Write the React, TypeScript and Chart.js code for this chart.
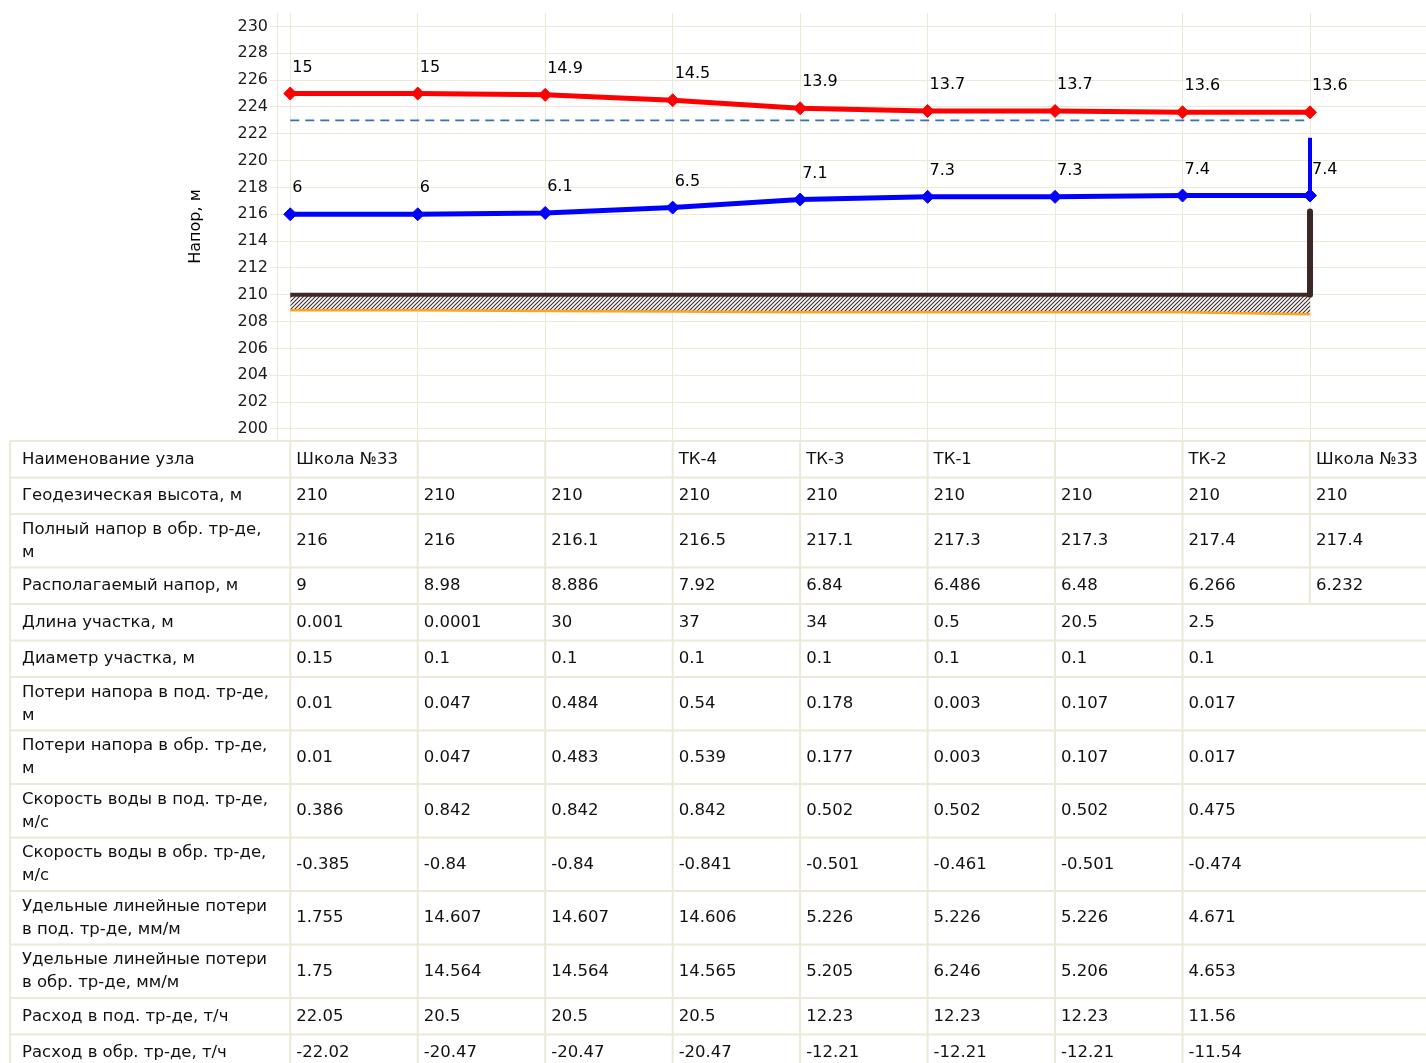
import React, { useEffect, useRef } from 'react';
import { Chart, registerables } from 'chart.js';

Chart.register(...registerables);

// ---------- data ----------
const nodeIndex = [0, 1, 2, 3, 4, 5, 6, 7, 8];
const nodeNames = ['Школа №33', '', '', 'ТК-4', 'ТК-3', 'ТК-1', '', 'ТК-2', 'Школа №33'];
const geoHeight = [210, 210, 210, 210, 210, 210, 210, 210, 210];
const supplyHead = [225, 225, 224.9, 224.5, 223.9, 223.7, 223.7, 223.6, 223.6];
const supplyLabels = ['15', '15', '14.9', '14.5', '13.9', '13.7', '13.7', '13.6', '13.6'];
const returnHead = [216, 216, 216.1, 216.5, 217.1, 217.3, 217.3, 217.4, 217.4];
const returnLabels = ['6', '6', '6.1', '6.5', '7.1', '7.3', '7.3', '7.4', '7.4'];
const staticHead = [223, 223, 223, 223, 223, 223, 223, 223, 223];
const pipeBottom = [208.85, 208.85, 208.8, 208.75, 208.7, 208.7, 208.7, 208.7, 208.55];
const riseX = [8, 8];
const returnRiseY = [217.4, 221.7];
const buildingY = [210, 216.2];

const availableHead = [9, 8.98, 8.886, 7.92, 6.84, 6.486, 6.48, 6.266, 6.232];
const sectionLength = [0.001, 0.0001, 30, 37, 34, 0.5, 20.5, 2.5];
const sectionDiameter = [0.15, 0.1, 0.1, 0.1, 0.1, 0.1, 0.1, 0.1];
const lossSupply = [0.01, 0.047, 0.484, 0.54, 0.178, 0.003, 0.107, 0.017];
const lossReturn = [0.01, 0.047, 0.483, 0.539, 0.177, 0.003, 0.107, 0.017];
const velSupply = [0.386, 0.842, 0.842, 0.842, 0.502, 0.502, 0.502, 0.475];
const velReturn = [-0.385, -0.84, -0.84, -0.841, -0.501, -0.461, -0.501, -0.474];
const specLossSupply = [1.755, 14.607, 14.607, 14.606, 5.226, 5.226, 5.226, 4.671];
const specLossReturn = [1.75, 14.564, 14.564, 14.565, 5.205, 6.246, 5.206, 4.653];
const flowSupply = [22.05, 20.5, 20.5, 20.5, 12.23, 12.23, 12.23, 11.56];
const flowReturn = [-22.02, -20.47, -20.47, -20.47, -12.21, -12.21, -12.21, -11.54];

const yTickValues = [200, 201, 202, 203, 204, 205, 206, 207, 208, 209, 210, 211, 212, 213, 214, 215, 216, 217, 218, 219, 220, 221, 222, 223, 224, 225, 226, 227, 228, 229, 230, 231];
const yLabelMax = 230;

const tableRows: { label: string[]; values: (string | number)[] }[] = [
  { label: ['Наименование узла'], values: nodeNames },
  { label: ['Геодезическая высота, м'], values: geoHeight },
  { label: ['Полный напор в обр. тр-де,', 'м'], values: returnHead },
  { label: ['Располагаемый напор, м'], values: availableHead },
  { label: ['Длина участка, м'], values: sectionLength },
  { label: ['Диаметр участка, м'], values: sectionDiameter },
  { label: ['Потери напора в под. тр-де,', 'м'], values: lossSupply },
  { label: ['Потери напора в обр. тр-де,', 'м'], values: lossReturn },
  { label: ['Скорость воды в под. тр-де,', 'м/с'], values: velSupply },
  { label: ['Скорость воды в обр. тр-де,', 'м/с'], values: velReturn },
  { label: ['Удельные линейные потери', 'в под. тр-де, мм/м'], values: specLossSupply },
  { label: ['Удельные линейные потери', 'в обр. тр-де, мм/м'], values: specLossReturn },
  { label: ['Расход в под. тр-де, т/ч'], values: flowSupply },
  { label: ['Расход в обр. тр-де, т/ч'], values: flowReturn },
];

const FONT = 'DejaVu Sans';
const GRID = '#ece9d8';

export default function App() {
  const ref = useRef<HTMLCanvasElement>(null);

  useEffect(() => {
    const canvas = ref.current!;
    const pc = document.createElement('canvas');
    const s = 4;
    pc.width = s;
    pc.height = s;
    const p = pc.getContext('2d')!;
    p.fillStyle = '#ffffff';
    p.fillRect(0, 0, s, s);
    p.strokeStyle = '#3f2c2c';
    p.lineWidth = 1.1;
    p.beginPath();
    p.moveTo(0, s);
    p.lineTo(s, 0);
    p.moveTo(-1, 1);
    p.lineTo(1, -1);
    p.moveTo(s - 1, s + 1);
    p.lineTo(s + 1, s - 1);
    p.stroke();
    const hatch = canvas.getContext('2d')!.createPattern(pc, 'repeat')!;

    const pts = (ys: number[]) => ys.map((y, i) => ({ x: nodeIndex[i], y }));

    const labelPlugin = {
      id: 'pointLabels',
      afterDatasetsDraw(chart: any) {
        const ctx = chart.ctx;
        ctx.save();
        ctx.font = `16px "${FONT}"`;
        ctx.fillStyle = '#000';
        ctx.textAlign = 'left';
        ctx.textBaseline = 'middle';
        const sets = [
          { idx: 0, labels: supplyLabels },
          { idx: 1, labels: returnLabels },
        ];
        sets.forEach(({ idx, labels }) => {
          const meta = chart.getDatasetMeta(idx);
          meta.data.forEach((pt: any, i: number) => {
            ctx.fillText(labels[i], pt.x + 2, pt.y - 26);
          });
        });
        ctx.restore();
      },
    };

    const tablePlugin = {
      id: 'dataTable',
      afterDraw(chart: any) {
        const ctx = chart.ctx;
        const xs = chart.scales.x;
        const colX = nodeIndex.map((i) => xs.getPixelForValue(i));
        const left = 10;
        const right = chart.width;
        let y = chart.chartArea.bottom + 1;
        ctx.save();
        ctx.font = `16.5px "${FONT}"`;
        ctx.fillStyle = '#111';
        ctx.textBaseline = 'middle';
        ctx.textAlign = 'left';
        ctx.strokeStyle = GRID;
        ctx.lineWidth = 2;
        tableRows.forEach((row) => {
          const h = row.label.length > 1 ? 53.5 : 36.5;
          ctx.beginPath();
          ctx.moveTo(left, y);
          ctx.lineTo(right, y);
          ctx.stroke();
          ctx.beginPath();
          ctx.moveTo(left, y);
          ctx.lineTo(left, y + h);
          row.values.forEach((_, j) => {
            ctx.moveTo(colX[j], y);
            ctx.lineTo(colX[j], y + h);
          });
          ctx.stroke();
          const yc = y + h / 2;
          if (row.label.length > 1) {
            ctx.fillText(row.label[0], 22, yc - 11.5);
            ctx.fillText(row.label[1], 22, yc + 11.5);
          } else {
            ctx.fillText(row.label[0], 22, yc);
          }
          row.values.forEach((v, j) => {
            ctx.fillText(String(v), colX[j] + 6, yc);
          });
          y += h;
        });
        ctx.beginPath();
        ctx.moveTo(left, y);
        ctx.lineTo(right, y);
        ctx.stroke();
        ctx.restore();
      },
    };

    const chart = new Chart(canvas, {
      type: 'line',
      data: {
        datasets: [
          {
            label: 'Напор в под. тр-де',
            data: pts(supplyHead),
            borderColor: '#ff0000',
            backgroundColor: '#ff0000',
            borderWidth: 5,
            pointStyle: 'rectRot',
            pointRadius: 6.5,
            pointBorderWidth: 1,
            pointBackgroundColor: '#ff0000',
            pointBorderColor: '#ff0000',
          },
          {
            label: 'Напор в обр. тр-де',
            data: pts(returnHead),
            borderColor: '#0000ff',
            backgroundColor: '#0000ff',
            borderWidth: 5,
            pointStyle: 'rectRot',
            pointRadius: 6.5,
            pointBorderWidth: 1,
            pointBackgroundColor: '#0000ff',
            pointBorderColor: '#0000ff',
          },
          {
            label: 'Подъём обр.',
            data: riseX.map((x, i) => ({ x, y: returnRiseY[i] })),
            borderColor: '#0000ff',
            borderWidth: 4,
            pointRadius: 0,
          },
          {
            label: 'Статический напор',
            data: pts(staticHead),
            borderColor: '#3272bd',
            borderWidth: 1.8,
            borderDash: [9, 6],
            pointRadius: 0,
          },
          {
            label: 'Здание',
            data: riseX.map((x, i) => ({ x, y: buildingY[i] })),
            borderColor: '#3d2626',
            borderWidth: 6,
            borderCapStyle: 'round',
            pointRadius: 0,
          },
          {
            label: 'Геодезическая высота',
            data: pts(geoHeight),
            borderColor: '#3d2727',
            borderWidth: 4,
            pointRadius: 0,
          },
          {
            label: 'Низ трубы',
            data: pts(pipeBottom),
            borderColor: '#ffa31a',
            borderWidth: 2.5,
            pointRadius: 0,
            fill: '-1',
            backgroundColor: hatch,
          },
        ],
      },
      options: {
        animation: false,
        responsive: false,
        devicePixelRatio: 1,
        layout: { autoPadding: false, padding: { left: 182, top: 13, right: 0, bottom: 623 } },
        plugins: { legend: { display: false }, tooltip: { enabled: false } },
        font: { family: FONT },
        scales: {
          x: {
            type: 'linear',
            min: -0.104,
            max: 8.91,
            afterBuildTicks: (axis: any) => {
              axis.ticks = nodeIndex.map((v) => ({ value: v }));
            },
            afterFit: (axis: any) => {
              axis.height = 0;
            },
            ticks: { display: false },
            grid: { color: GRID, drawTicks: false, lineWidth: 1 },
            border: { display: false },
          },
          y: {
            type: 'linear',
            min: 199.18,
            max: 231,
            afterBuildTicks: (axis: any) => {
              axis.ticks = yTickValues.map((v) => ({ value: v }));
            },
            afterFit: (axis: any) => {
              axis.width = 95;
            },
            ticks: {
              padding: 2,
              color: '#1a1a1a',
              font: { family: FONT, size: 16 },
              callback: (v: any) => (v % 2 === 0 && v <= yLabelMax ? String(v) : ''),
            },
            grid: { color: GRID, tickLength: 7, lineWidth: 1 },
            border: { display: true, color: GRID, width: 1 },
            title: {
              display: true,
              text: 'Напор, м',
              color: '#000',
              font: { family: FONT, size: 16 },
              padding: { top: 4, bottom: 4 },
            },
          },
        },
      },
      plugins: [labelPlugin, tablePlugin],
    } as any);

    return () => chart.destroy();
  }, []);

  return (
    <div style={{ position: 'absolute', left: 0, top: 0, width: 1426, height: 1063, background: '#fff' }}>
      <canvas ref={ref} width={1426} height={1063} style={{ display: 'block' }} />
    </div>
  );
}
